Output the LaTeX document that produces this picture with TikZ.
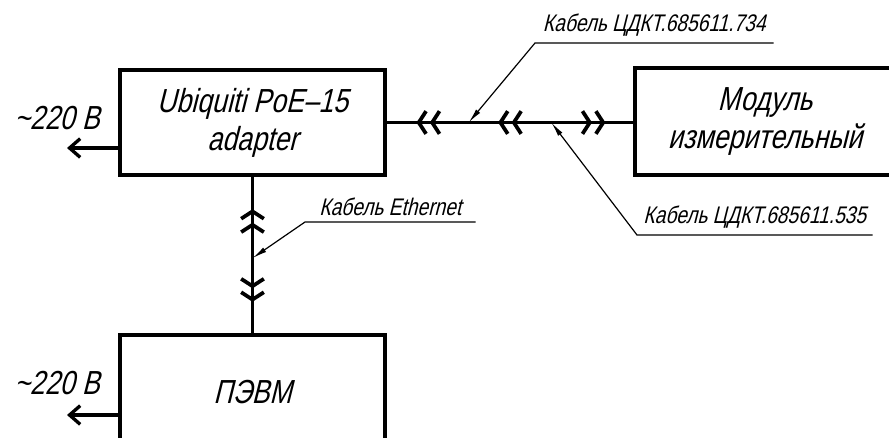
\documentclass[tikz,border=0pt]{standalone}
\usepackage{fontspec}
\setmainfont{Liberation Sans}[FakeSlant=0.25,FakeStretch=0.8]
\usetikzlibrary{arrows.meta, calc, decorations.markings}

\tikzset{
  dchev/.tip={Straight Barb[length=5.5pt,width=17pt,line width=2.8pt,sep=1.5pt]
              Straight Barb[length=5.5pt,width=17pt,line width=2.8pt]},
  block/.style={draw, rectangle, line width=3pt, align=center,
                font=\fontsize{25}{28.5}\selectfont},
  link/.style={line width=2.5pt, postaction={decorate}},
  mains/.style={line width=2.5pt, -{Straight Barb[length=8pt,width=14pt,line width=2.5pt]}},
  volt/.style={font=\fontsize{25}{28}\selectfont, inner sep=0pt},
  tag/.style={font=\fontsize{18}{20}\selectfont, anchor=south west, inner xsep=0pt, inner ysep=4.5pt},
  lead/.style={line width=0.9pt, -{Latex[length=11pt,width=4pt]}}
}

\begin{document}
\begin{tikzpicture}[x=0.75pt,y=-0.75pt]
  \useasboundingbox (0,0) rectangle (889,437);
  \clip (0,0) rectangle (889,437);

  % blocks
  \node[block, minimum width=198.75pt, minimum height=78.75pt] (adapter) at (252.5,122.5) {Ubiquiti PoE–15\\adapter};
  \node[block, minimum width=195pt, minimum height=80.25pt] (module) at (765,121.5) {Модуль\\измерительный};
  \node[block, minimum width=198.75pt, minimum height=86.25pt] (pc) at (252.5,392.5) {ПЭВМ};

  % cables
  \draw[link, decoration={markings,
      mark=at position 0.12 with {\arrowreversed{dchev}},
      mark=at position 0.452 with {\arrowreversed{dchev}},
      mark=at position 0.888 with {\arrow{dchev}}}]
    (adapter.east) -- (adapter.east -| module.west);
  \draw[link, decoration={markings,
      mark=at position 0.206 with {\arrowreversed{dchev}},
      mark=at position 0.8 with {\arrow{dchev}}}]
    (adapter.south) -- (pc.north);

  % mains
  \coordinate (m1) at (67,148);
  \coordinate (m2) at (67,415);
  \draw[mains] (adapter.west |- m1) -- (m1);
  \draw[mains] (pc.west |- m2) -- (m2);
  \node[volt] (v1) at (57,118) {\textasciitilde 220 В};
  \node[volt] (v2) at (57,383) {\textasciitilde 220 В};

  % callouts
  \coordinate (t734) at ($(adapter.east)!0.332!(adapter.east -| module.west)$);
  \coordinate (t535) at ($(adapter.east)!0.668!(adapter.east -| module.west)$);
  \coordinate (teth) at ($(adapter.south)!0.52!(pc.north)$);
  \node[tag, minimum width=178.5pt] (l734) at (535,43) {Кабель ЦДКТ.685611.734};
  \node[tag, minimum width=176.25pt] (l535) at (637,235) {Кабель ЦДКТ.685611.535};
  \node[tag, minimum width=127.5pt] (leth) at (305,222) {Кабель Ethernet};
  \draw[lead] (l734.south east) -- (l734.south west) -- (t734);
  \draw[lead] (l535.south east) -- (l535.south west) -- (t535);
  \draw[lead] (leth.south east) -- (leth.south west) -- (teth);
\end{tikzpicture}
\end{document}
